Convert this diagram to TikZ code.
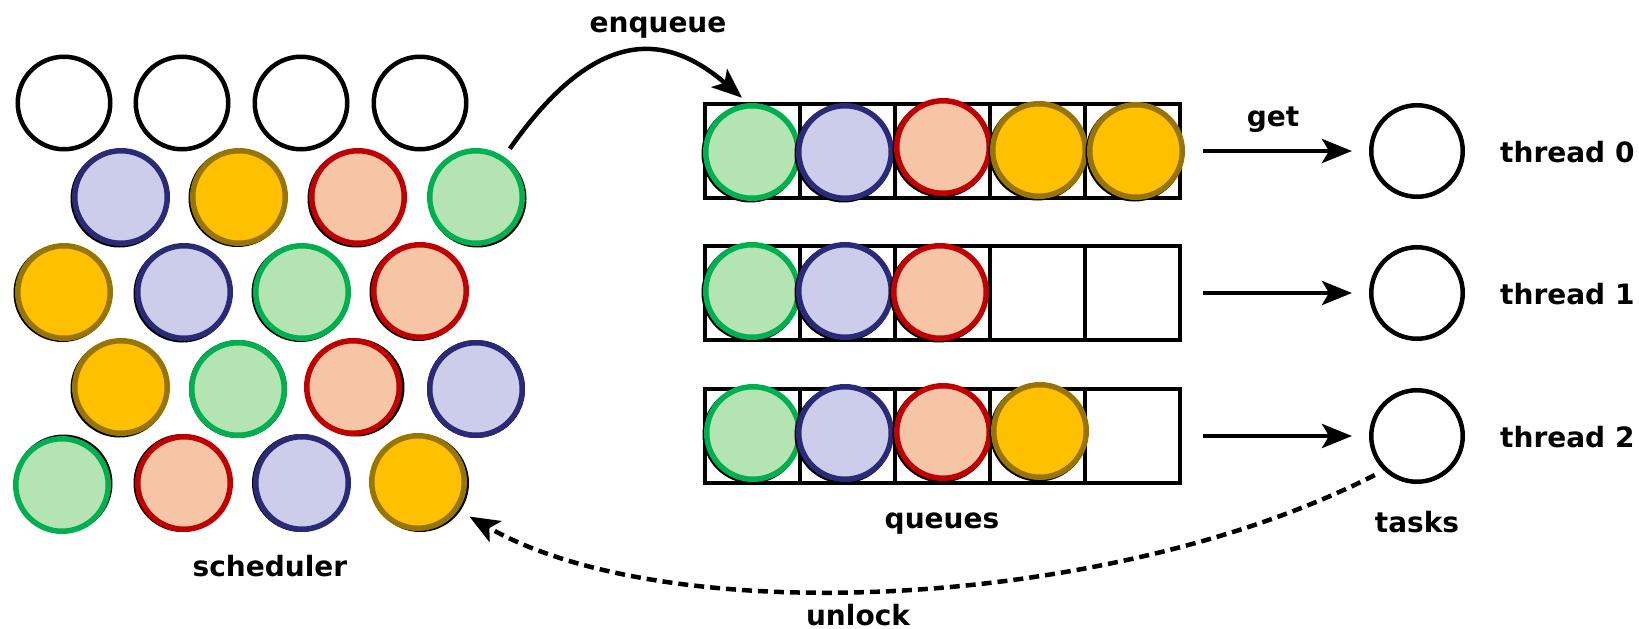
\documentclass[tikz,border=0pt]{standalone}
\usepackage{fontspec}
\setmainfont{DejaVu Sans}
\usetikzlibrary{arrows.meta}
\definecolor{bfill}{RGB}{204,205,235}
\definecolor{bline}{RGB}{42,42,120}
\definecolor{ofill}{RGB}{255,192,0}
\definecolor{oline}{RGB}{152,116,0}
\definecolor{rfill}{RGB}{245,197,165}
\definecolor{rline}{RGB}{192,0,0}
\definecolor{gfill}{RGB}{180,228,178}
\definecolor{gline}{RGB}{0,176,80}
\tikzset{
  ball/.style={circle, inner sep=0pt, minimum size=92.5pt, line width=5.5pt},
  bball/.style={ball, fill=bfill, draw=bline},
  oball/.style={ball, fill=ofill, draw=oline},
  rball/.style={ball, fill=rfill, draw=rline},
  gball/.style={ball, fill=gfill, draw=gline},
  sdisc/.style={circle, inner sep=0pt, minimum size=98pt, fill=black},
  emptyball/.style={circle, inner sep=0pt, minimum size=92.5pt, line width=4.5pt, draw=black, fill=white},
  threadball/.style={circle, inner sep=0pt, minimum size=91.5pt, line width=4.5pt, draw=black, fill=white},
  cell/.style={rectangle, draw=black, fill=white, line width=4.5pt, minimum width=95pt, minimum height=94pt, inner sep=0pt},
  lbl/.style={font=\fontsize{28}{34}\selectfont\bfseries, inner sep=0pt},
  conn/.style={line width=4.5pt, -{Stealth[length=30pt,width=24pt,inset=7pt]}},
}
% name, style, x, y, shadow dx, shadow dy
\newcommand\tball[6]{%
  \node[sdisc] (#1s) at ({#3+#5},{#4+#6}) {};
  \node[#2] (#1) at (#3,#4) {};}
\begin{document}
\begin{tikzpicture}[x=1pt, y=-1pt]
\path[use as bounding box, fill=white] (0,0) rectangle (1639,629);

% ---------- scheduler ----------
\node[emptyball] (s01) at (64,103) {};
\node[emptyball] (s02) at (182,103) {};
\node[emptyball] (s03) at (301,103) {};
\node[emptyball] (s04) at (420,103) {};

\tball{s11}{bball}{121}{197}{-1.5}{1.5}
\tball{s12}{oball}{239}{197}{-1.5}{1}
\tball{s13}{rball}{358}{197}{-1.5}{1.5}
\tball{s14}{gball}{476}{197}{1.5}{1.5}

\tball{s21}{oball}{64}{292}{-1.5}{1}
\tball{s22}{bball}{184}{292}{-1.5}{1.5}
\tball{s23}{gball}{302}{292}{-1.5}{1}
\tball{s24}{rball}{420}{291}{-1.5}{1}

\tball{s31}{oball}{121}{387}{-1.5}{1.5}
\tball{s32}{gball}{238}{389}{0}{0}
\tball{s33}{rball}{353}{387}{2.5}{0.5}
\tball{s34}{bball}{476}{389}{0}{0}

\tball{s41}{gball}{62}{485}{1.5}{-1.5}
\tball{s42}{rball}{184}{483}{-1.5}{0}
\tball{s43}{bball}{302}{483}{-1}{0}
\tball{s44}{oball}{418}{482}{2}{1}

\node[lbl, anchor=base] (lsched) at (270,576) {scheduler};

% ---------- queues ----------
\foreach \r/\yy in {0/151,1/293,2/436}{
  \foreach \c in {0,...,4}{
    \node[cell] (q\r-\c) at ({752.5+95*\c},\yy) {};
  }
}
\tball{b00}{gball}{752}{152}{-1.5}{1.5}
\tball{b01}{bball}{845}{152}{-1.5}{1.5}
\tball{b02}{rball}{943}{147}{-1.5}{1.5}
\tball{b03}{oball}{1039}{150}{-1.5}{1.5}
\tball{b04}{oball}{1136}{151}{-1.5}{1.5}

\tball{b10}{gball}{752}{291}{-1.5}{1.5}
\tball{b11}{bball}{845}{291}{-1.5}{1.5}
\tball{b12}{rball}{940}{292}{-1.5}{1.5}

\tball{b20}{gball}{753}{433}{-1.5}{1.5}
\tball{b21}{bball}{845}{433}{-1.5}{1.5}
\tball{b22}{rball}{943}{432}{-1.5}{1.5}
\tball{b23}{oball}{1040}{431}{-1.5}{1.5}

\node[lbl, anchor=base] (lqueues) at (942,528) {queues};

% ---------- threads ----------
\node[threadball] (t0) at (1417,151) {};
\node[threadball] (t1) at (1417,293) {};
\node[threadball] (t2) at (1417,436) {};

\node[lbl, anchor=base west] (lt0) at (1500,162) {thread 0};
\node[lbl, anchor=base west] (lt1) at (1500,304) {thread 1};
\node[lbl, anchor=base west] (lt2) at (1500,447) {thread 2};
\node[lbl, anchor=base] (ltasks) at (1417,532) {tasks};

% ---------- connectors ----------
\draw[conn, shorten <=21pt, shorten >=17pt] (q0-4.east) -- (t0.west);
\draw[conn, shorten <=21pt, shorten >=17pt] (q1-4.east) -- (t1.west);
\draw[conn, shorten <=21pt, shorten >=17pt] (q2-4.east) -- (t2.west);
\node[lbl, anchor=base] (lget) at (1273,126) {get};

\draw[conn, shorten <=10pt] (s14.55) .. controls (596,26) and (666,32) .. ([xshift=-10.5pt,yshift=4pt]q0-0.north);
\node[lbl, anchor=base] (lenq) at (658,32) {enqueue};

\draw[conn, dash pattern=on 10pt off 6pt, shorten <=10pt, shorten >=13pt] (t2.226) .. controls (1110,610) and (669,631) .. (s44.325);
\node[lbl, anchor=base] (lunlock) at (858,625) {unlock};
\end{tikzpicture}
\end{document}
